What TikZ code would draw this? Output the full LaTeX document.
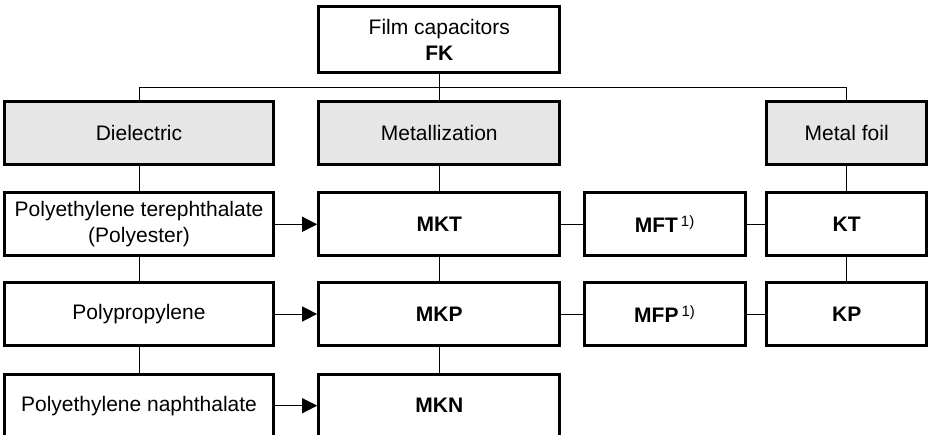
\documentclass[tikz,border=0pt]{standalone}
\usepackage{fontspec}
\setmainfont{Liberation Sans}
\usetikzlibrary{arrows.meta}
\definecolor{boxgrey}{RGB}{230,230,230}
\newcommand{\fnote}{\hspace{3pt}\raisebox{6pt}{\fontseries{m}\fontsize{15}{15}\selectfont 1)}}
\begin{document}
\begin{tikzpicture}[x=1pt,y=-1pt,
  box/.style={draw, line width=3pt, minimum height=63.3pt, inner sep=0pt, align=center, font=\fontsize{21}{26}\selectfont},
  catbox/.style={box, fill=boxgrey},
  link/.style={line width=1pt},
  arr/.style={line width=1pt, -{Triangle[length=15pt,width=15pt]}}]
\useasboundingbox (0,0) rectangle (928,435);
% top
\node[box, minimum width=241.3pt, minimum height=66pt] (top) at (439.3,39.7) {Film capacitors\\\textbf{FK}};
% categories
\node[catbox, minimum width=268.6pt] (diel) at (139,132.7) {Dielectric};
\node[catbox, minimum width=241.3pt] (metz) at (439.3,132.7) {Metallization};
\node[catbox, minimum width=160pt] (foil) at (846.7,132.7) {Metal foil};
% column 1
\node[box, minimum width=268.6pt] (pet) at (139,224.3) {Polyethylene terephthalate\\(Polyester)};
\node[box, minimum width=268.6pt] (pp) at (139,314) {Polypropylene};
\node[box, minimum width=268.6pt] (pen) at (139,405.7) {Polyethylene naphthalate};
% column 2
\node[box, minimum width=241.3pt] (mkt) at (439.3,224.3) {\textbf{MKT}};
\node[box, minimum width=241.3pt] (mkp) at (439.3,314) {\textbf{MKP}};
\node[box, minimum width=241.3pt] (mkn) at (439.3,405.7) {\textbf{MKN}};
% column 3
\node[box, minimum width=161pt] (mft) at (664.5,224.3) {\textbf{MFT}\fnote};
\node[box, minimum width=161pt] (mfp) at (664.5,314) {\textbf{MFP}\fnote};
% column 4
\node[box, minimum width=160pt] (kt) at (846.7,224.3) {\textbf{KT}};
\node[box, minimum width=160pt] (kp) at (846.7,314) {\textbf{KP}};
% bus
\coordinate (bus) at (439.3,87.3);
\draw[link] (top.south) -- (metz.north);
\draw[link] (diel.north) -- (diel.north |- bus) -- (foil.north |- bus) -- (foil.north);
% verticals
\draw[link] (diel) -- (pet);
\draw[link] (pet) -- (pp);
\draw[link] (pp) -- (pen);
\draw[link] (metz) -- (mkt);
\draw[link] (mkt) -- (mkp);
\draw[link] (mkp) -- (mkn);
\draw[link] (foil) -- (kt);
\draw[link] (kt) -- (kp);
% horizontals
\draw[link] (mkt) -- (mft);
\draw[link] (mft) -- (kt);
\draw[link] (mkp) -- (mfp);
\draw[link] (mfp) -- (kp);
% arrows
\draw[arr] (pet) -- (mkt);
\draw[arr] (pp) -- (mkp);
\draw[arr] (pen) -- (mkn);
\end{tikzpicture}
\end{document}
